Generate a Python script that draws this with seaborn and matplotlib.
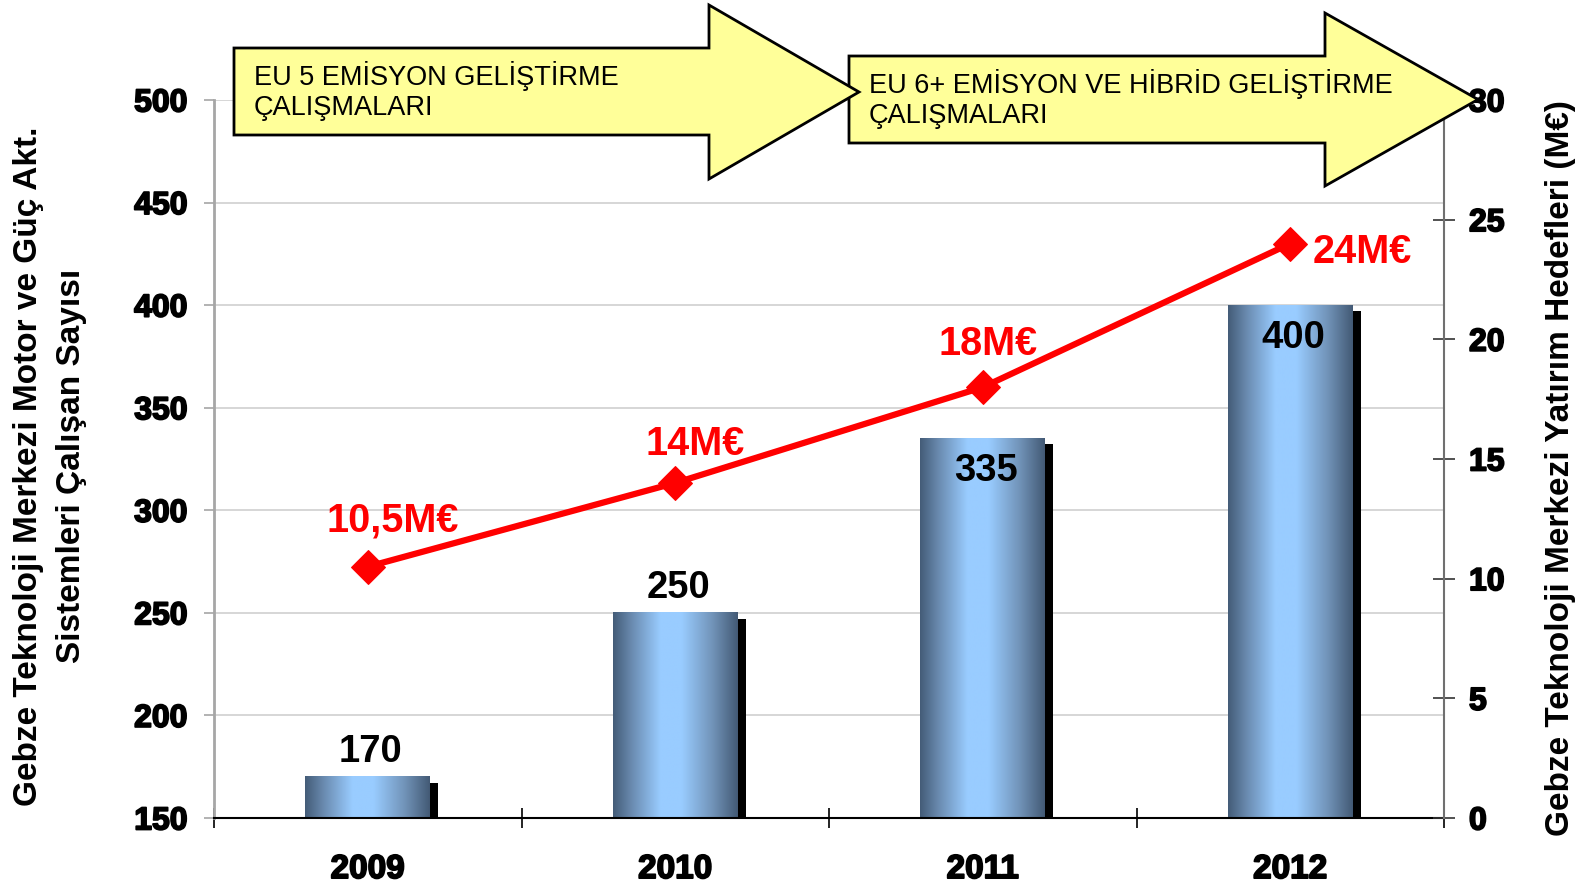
import numpy as np
import pandas as pd
import matplotlib.pyplot as plt
import seaborn as sns
from matplotlib.colors import LinearSegmentedColormap
from matplotlib.patches import Polygon, Rectangle
from matplotlib import transforms
import matplotlib.patheffects as pe

# data
years = ["2009", "2010", "2011", "2012"]
staff = [170, 250, 335, 400]
invest = [10.5, 14, 18, 24]
invest_labels = ["10,5M€", "14M€", "18M€", "24M€"]
left_ticks = [150, 200, 250, 300, 350, 400, 450, 500]
right_ticks = [0, 5, 10, 15, 20, 25, 30]
phase_texts = ["EU 5 EMİSYON GELİŞTİRME\nÇALIŞMALARI",
               "EU 6+ EMİSYON VE HİBRİD GELİŞTİRME\nÇALIŞMALARI"]

sns.set_style("white")
plt.rcParams['font.family'] = ['Liberation Sans', 'DejaVu Sans']
plt.rcParams['text.color'] = 'black'
plt.rcParams['xtick.labelcolor'] = 'black'
plt.rcParams['ytick.labelcolor'] = 'black'

W, H = 1589, 885
fig = plt.figure(figsize=(W / 100, H / 100), dpi=100)
ax = fig.add_axes([214 / W, 1 - 818 / H, (1444 - 214) / W, (818 - 100) / H])

# bars
df = pd.DataFrame({"year": years, "staff": staff})
sns.barplot(data=df, x="year", y="staff", ax=ax, width=0.405, color="#7fa6cc",
            saturation=1, linewidth=0)

# gradient fill + drop shadow for each bar
cmap = LinearSegmentedColormap.from_list(
    "bar", [(0, "#445c78"), (0.15, "#6a8bb0"), (0.38, "#99ccff"),
            (0.55, "#99ccff"), (0.8, "#7193b8"), (1, "#435a75")])
grad = np.linspace(0, 1, 256).reshape(1, -1)
base = left_ticks[0]
shadow_tr = transforms.offset_copy(ax.transData, fig=fig, x=8, y=-6, units='dots')
for p in list(ax.patches):
    x0, w, h = p.get_x(), p.get_width(), p.get_height()
    sh = Rectangle((x0, 0), w, h, transform=shadow_tr, facecolor="black",
                   edgecolor="none", zorder=1.5)
    ax.add_patch(sh)
    p.set_zorder(2)
    ax.imshow(grad, extent=[x0, x0 + w, base, h], aspect='auto', cmap=cmap,
              zorder=2.1, interpolation='bilinear')

ax.set_xlim(-0.5, 3.5)
ax.set_ylim(150, 500)
ax.set_yticks(left_ticks)
ax.yaxis.grid(True, color="#d0d0d0", lw=1.2)
ax.set_axisbelow(True)
ax.set_xlabel("")
ax.set_ylabel("")

# bar value labels
for i, v in enumerate(staff):
    dy = 25 if v < 300 else -33
    ax.annotate(str(v), (i, v), xytext=(3, dy), textcoords='offset pixels',
                ha='center', va='center', fontsize=27.5, fontweight='bold',
                color='black', zorder=5)

ax.spines['top'].set_visible(False)
ax.spines['right'].set_visible(False)
ax.spines['left'].set_color("#a6a6a6")
ax.spines['left'].set_linewidth(2)
ax.spines['bottom'].set_color("black")
ax.spines['bottom'].set_linewidth(1.5)
ax.spines['bottom'].set_zorder(3)

heavy = [pe.withStroke(linewidth=1.3, foreground='black')]
ax.set_xticks(range(len(years)))
ax.set_xticklabels(years)
ax.set_xticks(np.arange(-0.5, len(years), 1.0), minor=True)
ax.tick_params(axis='x', which='major', bottom=True, length=0, pad=26,
               labelsize=24)
ax.tick_params(axis='x', which='minor', bottom=True, direction='inout',
               length=15, width=1.2, color='black')
ax.tick_params(axis='y', left=True, direction='out', length=7, width=1.2,
               color='#a6a6a6', pad=12, labelsize=23)
for t in ax.get_xticklabels() + ax.get_yticklabels():
    t.set_fontweight('bold')
    t.set_path_effects(heavy)

# investment line on the right axis
ax2 = ax.twinx()
sns.lineplot(x=np.arange(len(years)), y=invest, ax=ax2, color='red', lw=4.5,
             marker='D', markersize=17, markeredgecolor='red', zorder=4)
ax2.set_ylim(0, 30)
ax2.set_xlim(-0.5, 3.5)
ax2.set_yticks(right_ticks)
ax2.set_ylabel("")
for s in ['top', 'left', 'bottom']:
    ax2.spines[s].set_visible(False)
ax2.spines['right'].set_color("#707070")
ax2.spines['right'].set_linewidth(1.5)
ax2.tick_params(axis='y', right=True, direction='inout', length=16, width=1.2,
                color='#333333', pad=10, labelsize=23)
for t in ax2.get_yticklabels():
    t.set_fontweight('bold')
    t.set_path_effects(heavy)

label_offsets = [(25, 46), (20, 39), (5, 43), (72, -8)]
for i, (v, lab) in enumerate(zip(invest, invest_labels)):
    ax2.annotate(lab, (i, v), xytext=label_offsets[i], textcoords='offset pixels',
                 ha='center', va='center', fontsize=28.5, fontweight='bold',
                 color='red', zorder=5)

# axis titles
fig.text(50 / W, 1 - 466 / H,
         "Gebze Teknoloji Merkezi Motor ve Güç Akt.\nSistemleri Çalışan Sayısı",
         rotation=90, ha='center', va='center', multialignment='center',
         fontsize=24, fontweight='bold', linespacing=1.5)
fig.text(1561 / W, 1 - 468 / H, "Gebze Teknoloji Merkezi Yatırım Hedefleri (M€)",
         rotation=90, ha='center', va='center', fontsize=24, fontweight='bold')

# phase arrows in pixel coordinates on an overlay
ov = fig.add_axes([0, 0, 1, 1], zorder=10)
ov.set_xlim(0, W)
ov.set_ylim(H, 0)
ov.axis('off')
ov.patch.set_alpha(0)


def arrow(x0, x1, xt, yb0, yb1, yh0, yh1):
    yt = (yh0 + yh1) / 2
    pts = [(x0, yb0), (x1, yb0), (x1, yh0), (xt, yt), (x1, yh1), (x1, yb1), (x0, yb1)]
    return Polygon(pts, closed=True, facecolor="#ffff99", edgecolor="black", lw=2)


ov.add_patch(arrow(849, 1325, 1478, 56, 143, 13, 186))
ov.add_patch(arrow(234, 709, 859, 48, 135, 5, 179))
ov.text(254, 91, phase_texts[0], ha='left', va='center', fontsize=19.5,
        linespacing=1.2)
ov.text(869, 99, phase_texts[1], ha='left', va='center', fontsize=19.5,
        linespacing=1.2)

fig.savefig("out.png", dpi=100)
